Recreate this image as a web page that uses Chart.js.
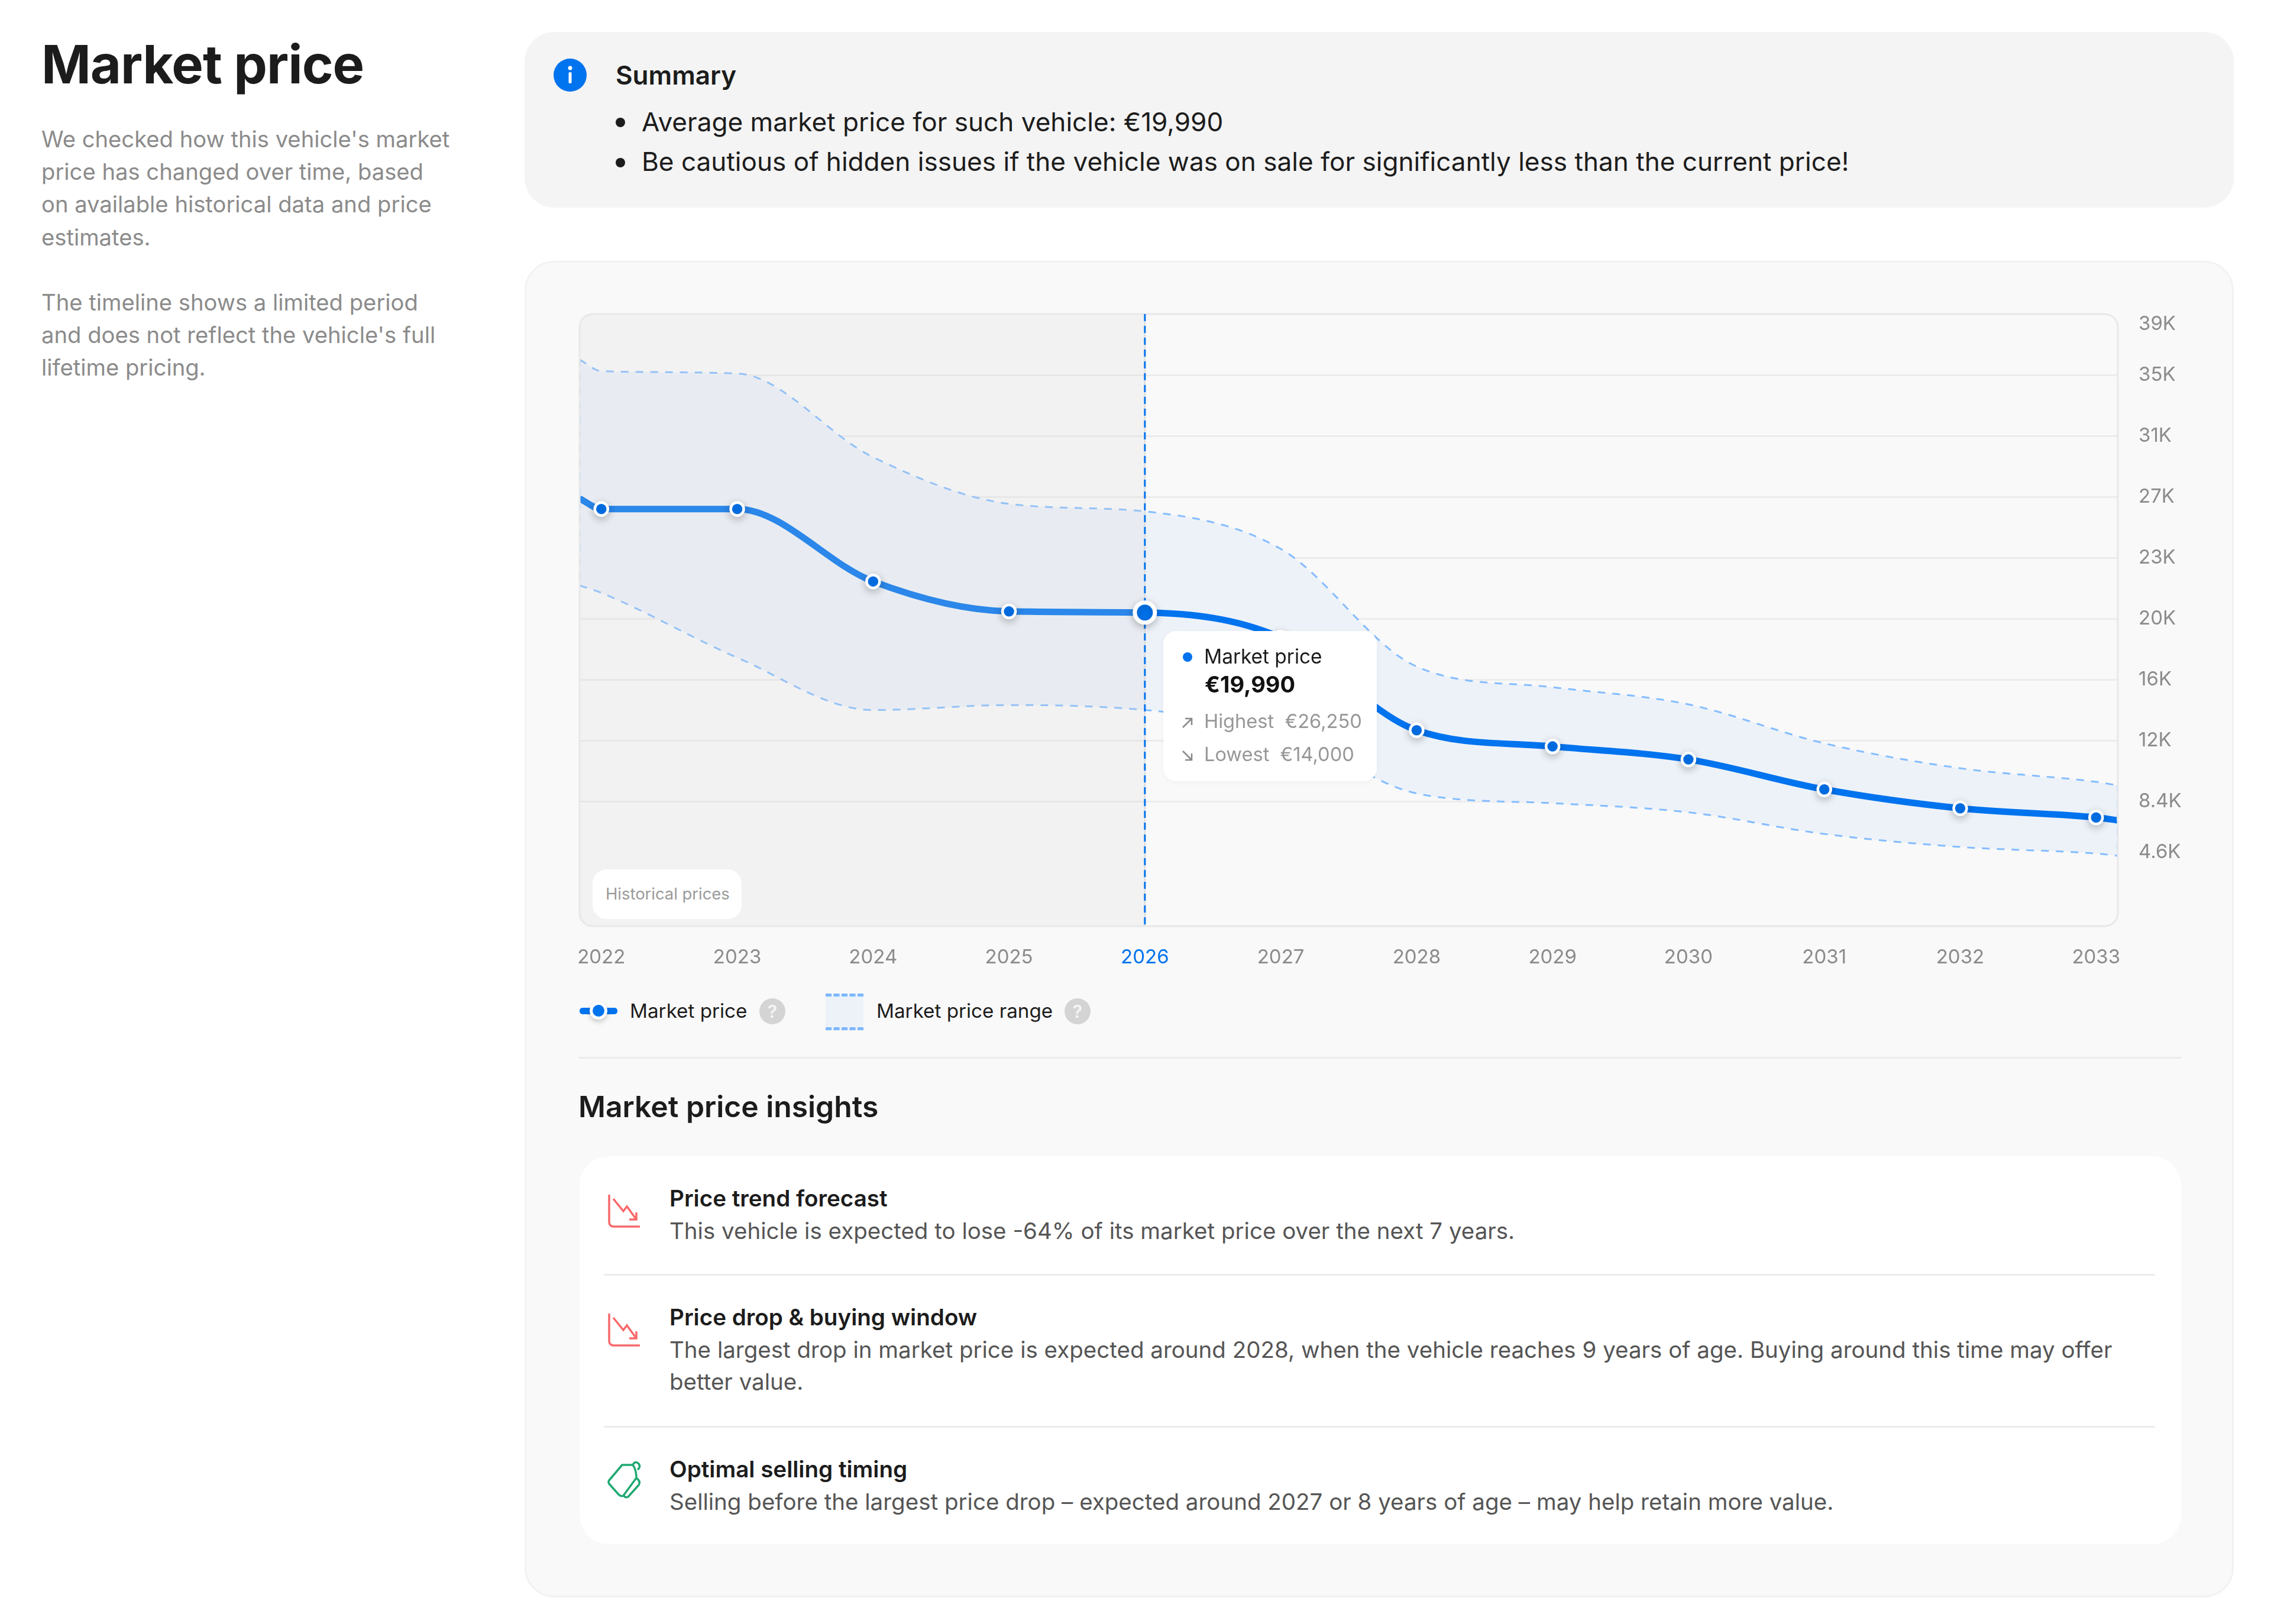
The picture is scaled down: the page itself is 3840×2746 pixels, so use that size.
<!DOCTYPE html>
<html>
<head>
  <title>Market price</title>
  <meta charset="utf-8" />
  <script src="https://cdn.jsdelivr.net/npm/chart.js@4/dist/chart.umd.min.js"></script>
  <style>
    html, body { margin: 0; padding: 0; background: #ffffff; }
    body { position: relative; width: 3840px; height: 2746px; overflow: hidden; font-family: Inter, sans-serif; color: #1c1c1c; }
    .box { position: absolute; box-sizing: border-box; }
    .t { position: absolute; white-space: nowrap; line-height: 1; }
    .grey { color: #8b8b8b; }
    .desc { color: #555555; font-size: 38.5px; }
    .head { font-weight: 600; font-size: 38.6px; color: #1c1c1c; }
    .rule { position: absolute; height: 3px; background: #ececec; }
    .help { position: absolute; width: 44px; height: 44px; border-radius: 50%; background: #d4d4d4; color: #f5f5f5; font-size: 30px; line-height: 44px; text-align: center; font-weight: 600; }
    svg { position: absolute; overflow: visible; fill: none; }
    canvas { position: absolute; left: 960px; top: 500px; }
  </style>
</head>
<body>
  <div class="t" style="left:70px;top:64px;font-size:90px;font-weight:700;letter-spacing:-1px">Market price</div>
  <div class="t grey" style="left:70px;top:216px;font-size:38.2px">We checked how this vehicle's market</div>
  <div class="t grey" style="left:70px;top:271px;font-size:38.2px">price has changed over time, based</div>
  <div class="t grey" style="left:70px;top:326px;font-size:38.2px">on available historical data and price</div>
  <div class="t grey" style="left:70px;top:382px;font-size:38.2px">estimates.</div>
  <div class="t grey" style="left:70px;top:492px;font-size:38.2px">The timeline shows a limited period</div>
  <div class="t grey" style="left:70px;top:547px;font-size:38.2px">and does not reflect the vehicle's full</div>
  <div class="t grey" style="left:70px;top:602px;font-size:38.2px">lifetime pricing.</div>

  <div class="box" style="left:887px;top:54px;width:2890px;height:297px;border-radius:50px;background:#f4f4f4"></div>
  <svg style="left:936px;top:99px" width="56" height="56" viewBox="0 0 56 56">
    <circle cx="28" cy="28" r="28" fill="#0073ee"/>
    <circle cx="28" cy="16" r="3.5" fill="#fff"/>
    <rect x="25.5" y="23" width="5" height="19" rx="2" fill="#fff"/>
  </svg>
  <div class="t" style="left:1041px;top:105px;font-size:44px;font-weight:600">Summary</div>
  <div class="box" style="left:1041px;top:199px;width:16px;height:16px;border-radius:50%;background:#1c1c1c"></div>
  <div class="t" style="left:1085px;top:184px;font-size:44.1px">Average market price for such vehicle: €19,990</div>
  <div class="box" style="left:1041px;top:267px;width:16px;height:16px;border-radius:50%;background:#1c1c1c"></div>
  <div class="t" style="left:1085px;top:251px;font-size:44.1px">Be cautious of hidden issues if the vehicle was on sale for significantly less than the current price!</div>

  <div class="box" style="left:887px;top:441px;width:2890px;height:2260px;border-radius:50px;background:#f9f9f9;border:3px solid #f2f2f2"></div>

  <canvas id="priceChart" width="2790" height="1160"></canvas>

  <div class="box" style="left:1002px;top:1470px;width:252px;height:84px;border-radius:24px;background:#ffffff"></div>
  <div class="t" style="left:1024px;top:1498px;font-size:27.4px;color:#9a9a9a">Historical prices</div>

  <!-- tooltip sits over the canvas, same as the site's html tooltip -->
  <div class="box" style="left:1967px;top:1067px;width:361px;height:254px;border-radius:22px;background:#ffffff;box-shadow:0 2px 10px rgba(0,0,0,0.04)"></div>
  <div class="box" style="left:2000px;top:1103px;width:16px;height:16px;border-radius:50%;background:#0073ee"></div>
  <div class="t" style="left:2036px;top:1094px;font-size:33.4px;color:#1c1c1c">Market price</div>
  <div class="t" style="left:2037px;top:1138px;font-size:38px;font-weight:700;color:#111111">€19,990</div>
  <div class="t" style="left:2036px;top:1203px;font-size:32.6px;color:#979797">Highest&nbsp; €26,250</div>
  <div class="t" style="left:2036px;top:1259px;font-size:32.6px;color:#979797">Lowest&nbsp; €14,000</div>
  <svg style="left:1998px;top:1212px" width="20" height="20" viewBox="0 0 20 20" stroke="#8a8a8a" stroke-width="2.6">
    <path d="M2 18 L17 3 M6 3 H17 V14"/>
  </svg>
  <svg style="left:1998px;top:1268px" width="20" height="20" viewBox="0 0 20 20" stroke="#8a8a8a" stroke-width="2.6">
    <path d="M2 2 L17 17 M6 17 H17 V6"/>
  </svg>

  <!-- legend -->
  <div class="box" style="left:980px;top:1704px;width:64px;height:11px;border-radius:5px;background:#0073ee"></div>
  <div class="box" style="left:997px;top:1694px;width:30px;height:30px;border-radius:50%;background:#0073ee;border:5px solid #fff;box-shadow:0 4px 8px rgba(0,0,0,0.2)"></div>
  <div class="t" style="left:1065px;top:1693px;font-size:33.2px">Market price</div>
  <div class="help" style="left:1284px;top:1688px">?</div>
  <div class="box" style="left:1396px;top:1680px;width:64px;height:62px;background:#edf2f9;border-top:5px dashed #7ab8ff;border-bottom:5px dashed #7ab8ff"></div>
  <div class="t" style="left:1482px;top:1693px;font-size:33.2px">Market price range</div>
  <div class="help" style="left:1800px;top:1688px">?</div>

  <div class="rule" style="left:978px;top:1787px;width:2710px"></div>
  <div class="t" style="left:978px;top:1847px;font-size:49.8px;font-weight:600">Market price insights</div>

  <div class="box" style="left:980px;top:1955px;width:2708px;height:656px;border-radius:50px;background:#ffffff"></div>

  <svg style="left:1028px;top:2018px" width="54" height="58" viewBox="0 0 54 58" stroke="#f8696b" stroke-width="3.5">
    <path d="M2 2 V48 Q2 56 10 56 H54"/><path d="M9 9 L26 30 L32 22 L48 44 M48 32 V44 H36"/>
  </svg>
  <div class="t head" style="left:1132px;top:2007px">Price trend forecast</div>
  <div class="t desc" style="left:1132px;top:2062px">This vehicle is expected to lose -64% of its market price over the next 7 years.</div>
  <div class="rule" style="left:1021px;top:2154px;width:2623px"></div>

  <svg style="left:1028px;top:2219px" width="54" height="58" viewBox="0 0 54 58" stroke="#f8696b" stroke-width="3.5">
    <path d="M2 2 V48 Q2 56 10 56 H54"/><path d="M9 9 L26 30 L32 22 L48 44 M48 32 V44 H36"/>
  </svg>
  <div class="t head" style="left:1132px;top:2208px">Price drop &amp; buying window</div>
  <div class="t desc" style="left:1132px;top:2263px">The largest drop in market price is expected around 2028, when the vehicle reaches 9 years of age. Buying around this time may offer</div>
  <div class="t desc" style="left:1132px;top:2317px">better value.</div>
  <div class="rule" style="left:1021px;top:2411px;width:2623px"></div>

  <svg style="left:1026px;top:2471px" width="58" height="62" viewBox="0 0 58 62" stroke="#1fa971" stroke-width="3.5" stroke-linejoin="round">
    <path d="M4 32 L26 6 L44 6 Q50 14 50 28 L28 58 Q24 60 20 56 L4 38 Q2 35 4 32 Z"/>
    <path d="M44 6 Q48 -2 54 4 Q58 10 52 14 M50 28 Q58 34 54 40 L36 60 Q32 62 28 58"/>
  </svg>
  <div class="t head" style="left:1132px;top:2465px">Optimal selling timing</div>
  <div class="t desc" style="left:1132px;top:2520px">Selling before the largest price drop – expected around 2027 or 8 years of age – may help retain more value.</div>

  <script>
    // values, in thousands of euro
    var years = [2022, 2023, 2024, 2025, 2026, 2027, 2028, 2029, 2030, 2031, 2032, 2033];
    var marketPrice = [26.64, 26.64, 22.12, 20.25, 20.18, 18.62, 12.84, 11.83, 11.02, 9.15, 7.97, 7.40];
    var priceHigh = [35.24, 35.09, 29.87, 26.96, 26.49, 24.15, 16.81, 15.52, 14.45, 12.02, 10.47, 9.62];
    var priceLow = [21.41, 17.37, 14.10, 14.41, 14.10, 12.83, 8.90, 8.29, 7.72, 6.37, 5.56, 5.15];

    // the curves run on past the first and last year to the plot edges
    var edgeYears = [2021.84, 2033.16];
    var marketEdge = [27.29, 7.22];
    var highEdge = [35.96, 9.40];
    var lowEdge = [21.87, 5.01];

    var tickValues = [38.8, 35, 31.2, 27.4, 23.6, 19.8, 16, 12.2, 8.4, 4.6];
    var tickLabels = ['39K', '35K', '31K', '27K', '23K', '20K', '16K', '12K', '8.4K', '4.6K'];
    var yMin = 0.62, yMax = 38.8;
    var currentYear = 2026;

    var BLUE = '#0073ee';

    function withEdges(values, edge) {
      var out = [{ x: edgeYears[0], y: edge[0] }];
      years.forEach(function(y, i) { out.push({ x: y, y: values[i] }); });
      out.push({ x: edgeYears[1], y: edge[1] });
      return out;
    }

    function noAxisPadding(s) {
      s.paddingTop = 0;
      s.paddingBottom = 0;
      s.paddingLeft = 0;
      s.paddingRight = 0;
    }

    var plotDecor = {
      id: 'plotDecor',
      // chart.js paints the datasets last to first, so index 0 (the points) comes last
      beforeDatasetDraw: function(chart, args) {
        if (args.index !== 0) return;
        var ctx = chart.ctx, a = chart.chartArea, xs = chart.scales.x;
        var nowX = xs.getPixelForValue(currentYear);
        ctx.save();
        // historical shade goes over band and line but under the points
        ctx.fillStyle = 'rgba(213,213,213,0.2)';
        ctx.beginPath();
        ctx.roundRect(a.left, a.top, nowX - a.left, a.bottom - a.top, [22, 0, 0, 22]);
        ctx.fill();
        // band sides
        ctx.strokeStyle = '#a9d0fb';
        ctx.lineWidth = 2;
        ctx.setLineDash([12, 12]);
        var ys = chart.scales.y;
        ctx.beginPath();
        ctx.moveTo(a.left + 1, ys.getPixelForValue(highEdge[0]));
        ctx.lineTo(a.left + 1, ys.getPixelForValue(lowEdge[0]));
        ctx.moveTo(a.right - 1, ys.getPixelForValue(highEdge[1]));
        ctx.lineTo(a.right - 1, ys.getPixelForValue(lowEdge[1]));
        ctx.stroke();
        // plot frame
        ctx.setLineDash([]);
        ctx.strokeStyle = '#e8e8e8';
        ctx.lineWidth = 3;
        ctx.beginPath();
        ctx.roundRect(a.left, a.top, a.right - a.left, a.bottom - a.top, 22);
        ctx.stroke();
        // current year marker
        ctx.strokeStyle = '#d8d8d8';
        ctx.lineWidth = 2;
        ctx.beginPath();
        ctx.moveTo(nowX, a.top);
        ctx.lineTo(nowX, a.bottom);
        ctx.stroke();
        ctx.strokeStyle = BLUE;
        ctx.lineWidth = 3;
        ctx.setLineDash([12, 8]);
        ctx.beginPath();
        ctx.moveTo(nowX, a.top);
        ctx.lineTo(nowX, a.bottom);
        ctx.stroke();
        ctx.restore();
        ctx.save();
        ctx.shadowColor = 'rgba(0,0,0,0.22)';
        ctx.shadowBlur = 14;
        ctx.shadowOffsetY = 4;
      },
      afterDatasetDraw: function(chart, args) {
        if (args.index === 0) chart.ctx.restore();
      }
    };

    var ctx = document.getElementById('priceChart').getContext('2d');
    var priceChart = new Chart(ctx, {
      type: 'line',
      data: {
        datasets: [
          {
            label: 'Market price points',
            data: years.map(function(y, i) { return { x: y, y: marketPrice[i] }; }),
            showLine: false,
            backgroundColor: BLUE,
            borderColor: '#ffffff',
            borderWidth: function(c) { return years[c.dataIndex] === currentYear ? 7 : 4.5; },
            pointRadius: function(c) { return years[c.dataIndex] === currentYear ? 17 : 11; },
            clip: false
          },
          {
            label: 'Market price',
            data: withEdges(marketPrice, marketEdge),
            borderColor: BLUE,
            borderWidth: 11,
            pointRadius: 0,
            fill: false,
            cubicInterpolationMode: 'monotone'
          },
          {
            label: 'Highest',
            data: withEdges(priceHigh, highEdge),
            borderColor: '#85bdff',
            borderWidth: 3,
            borderDash: [13, 12],
            backgroundColor: '#edf2f9',
            fill: '+1',
            pointRadius: 0,
            cubicInterpolationMode: 'monotone'
          },
          {
            label: 'Lowest',
            data: withEdges(priceLow, lowEdge),
            borderColor: '#85bdff',
            borderWidth: 3,
            borderDash: [13, 12],
            pointRadius: 0,
            fill: false,
            cubicInterpolationMode: 'monotone'
          }
        ]
      },
      options: {
        responsive: false,
        devicePixelRatio: 1,
        animation: false,
        layout: { padding: { left: 20, top: 31, right: 0, bottom: 0 } },
        plugins: {
          legend: { display: false },
          tooltip: { enabled: false },
          filler: { drawTime: 'beforeDatasetsDraw' }
        },
        scales: {
          x: {
            type: 'linear',
            min: edgeYears[0],
            max: edgeYears[1],
            afterBuildTicks: function(s) { s.ticks = years.map(function(y) { return { value: y }; }); },
            afterFit: function(s) { s.height = 94; noAxisPadding(s); },
            grid: { display: false },
            border: { display: false },
            ticks: {
              autoSkip: false,
              maxRotation: 0,
              padding: 25,
              font: { family: 'Inter', size: 33 },
              color: function(c) { return c.tick.value === currentYear ? BLUE : '#8b8b8b'; },
              callback: function(v) { return String(v); }
            }
          },
          y: {
            position: 'right',
            min: yMin,
            max: yMax,
            afterBuildTicks: function(s) { s.ticks = tickValues.map(function(v) { return { value: v }; }); },
            afterFit: function(s) { s.width = 169; noAxisPadding(s); },
            grid: {
              drawTicks: false,
              lineWidth: 3,
              color: function(c) {
                var v = c.tick.value;
                return (v === tickValues[0] || v === tickValues[tickValues.length - 1]) ? 'rgba(0,0,0,0)' : '#ececec';
              }
            },
            border: { display: false },
            ticks: {
              autoSkip: false,
              padding: 35,
              font: { family: 'Inter', size: 33, lineHeight: 1.03 },
              color: '#8b8b8b',
              // top and bottom labels are nudged inwards in the original
              callback: function(v) {
                var i = tickValues.indexOf(v);
                if (i === 0) return ['', tickLabels[i]];
                if (i === tickLabels.length - 1) return [tickLabels[i], ''];
                return tickLabels[i];
              }
            }
          }
        }
      },
      plugins: [plotDecor]
    });
  </script>
</body>
</html>
